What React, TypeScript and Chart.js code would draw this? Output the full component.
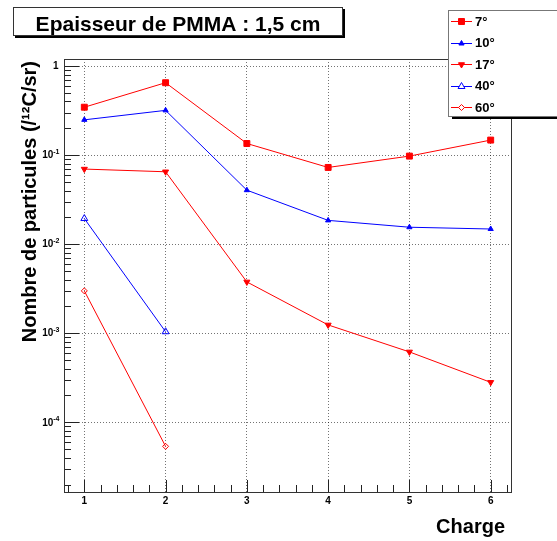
import React, { useEffect, useRef } from 'react';
import { Chart, registerables } from 'chart.js';
import { drawPoint } from 'chart.js/helpers';

Chart.register(...registerables);

// ---- data ----
const charges = [1, 2, 3, 4, 5, 6];
const v7 = [0.345, 0.65, 0.135, 0.0727, 0.0975, 0.1475];
const v10 = [0.249, 0.318, 0.0404, 0.0185, 0.0155, 0.0148];
const v17 = [0.0697, 0.065, 0.00377, 0.00124, 0.000617, 0.000281];
const v40 = [0.0194, 0.00104];
const v60 = [0.00299, 0.0000537];
const seriesLabels = ['7°', '10°', '17°', '40°', '60°'];
const xTicks = [1, 2, 3, 4, 5, 6];
const yDecades = [1e-4, 1e-3, 1e-2, 1e-1, 1];
const titleText = 'Epaisseur de PMMA : 1,5 cm';
const xTitle = 'Charge';
const yTitle = 'Nombre de particules (/¹²C/sr)';

const FONT = '"Liberation Sans", Arial, Helvetica, sans-serif';

const toPts = (vals: number[]) => vals.map((v, i) => ({ x: charges[i], y: v }));

const RED = '#ff0000';
const BLUE = '#0000ff';

const seriesStyles = [
  { color: RED, pointStyle: 'rect', radius: 4.2, rotation: 0, hollow: false },
  { color: BLUE, pointStyle: 'triangle', radius: 3, rotation: 0, hollow: false },
  { color: RED, pointStyle: 'triangle', radius: 3.5, rotation: 180, hollow: false },
  { color: BLUE, pointStyle: 'triangle', radius: 4, rotation: 0, hollow: true },
  { color: RED, pointStyle: 'rectRot', radius: 3, rotation: 0, hollow: true },
];
const seriesValues = [v7, v10, v17, v40, v60];

const decoPlugin = {
  id: 'rootDeco',
  beforeDatasetsDraw(chart: any) {
    const { ctx, chartArea } = chart;
    const xs = chart.scales.x;
    const ys = chart.scales.y;
    const L = chartArea.left, R = chartArea.right, T = chartArea.top, B = chartArea.bottom;
    ctx.save();
    ctx.strokeStyle = '#222';
    ctx.lineWidth = 1;
    // y ticks (major + minor)
    ctx.beginPath();
    for (let e = -5; e <= 0; e++) {
      for (let m = 1; m <= 9; m++) {
        const v = m * Math.pow(10, e);
        if (v < ys.min || v > ys.max) continue;
        const y = Math.round(ys.getPixelForValue(v)) + 0.5;
        const len = m === 1 ? 15 : 7;
        ctx.moveTo(L, y);
        ctx.lineTo(L + len, y);
      }
    }
    // x ticks
    for (let k = 0; k <= 60; k++) {
      const v = Math.round((0.8 + k * 0.2) * 10) / 10;
      if (v < xs.min || v > xs.max) continue;
      const x = Math.round(xs.getPixelForValue(v)) + 0.5;
      const major = Math.abs(v - Math.round(v)) < 1e-6;
      const len = major ? 12 : 7;
      ctx.moveTo(x, B);
      ctx.lineTo(x, B - len);
    }
    ctx.stroke();
    // frame
    ctx.strokeStyle = '#333';
    ctx.strokeRect(Math.round(L) + 0.5, Math.round(T) + 0.5, Math.round(R - L), Math.round(B - T));
    // y tick labels
    ctx.fillStyle = '#000';
    ctx.textBaseline = 'middle';
    ctx.textAlign = 'right';
    yDecades.forEach((v) => {
      const y = ys.getPixelForValue(v);
      const e = Math.round(Math.log10(v));
      if (e === 0) {
        ctx.font = `bold 10px ${FONT}`;
        ctx.fillText('1', 58.5, y);
      } else {
        ctx.font = `bold 7px ${FONT}`;
        const ex = String(e);
        const w = ctx.measureText(ex).width;
        ctx.fillText(ex, 59.5, y - 3.5);
        ctx.font = `bold 10px ${FONT}`;
        ctx.fillText('10', 59.5 - w, y + 0.5);
      }
    });
    ctx.restore();
  },
  afterDraw(chart: any) {
    const { ctx } = chart;
    ctx.save();
    // title box
    ctx.fillStyle = '#000';
    ctx.fillRect(15, 36, 330, 2);
    ctx.fillRect(343, 9, 2, 28);
    ctx.fillStyle = '#fff';
    ctx.fillRect(13, 7, 330, 29);
    ctx.strokeStyle = '#333';
    ctx.lineWidth = 1;
    ctx.strokeRect(13.5, 7.5, 329, 28);
    ctx.fillStyle = '#000';
    ctx.font = `bold 21px ${FONT}`;
    ctx.textAlign = 'center';
    ctx.textBaseline = 'alphabetic';
    ctx.fillText(titleText, 178, 30.5);

    // axis titles
    ctx.font = `bold 20px ${FONT}`;
    ctx.textAlign = 'right';
    ctx.fillText(xTitle, 505, 533);
    ctx.save();
    ctx.translate(36, 61);
    ctx.rotate(-Math.PI / 2);
    ctx.textAlign = 'right';
    ctx.fillText(yTitle, 0, 0);
    ctx.restore();

    // legend
    ctx.fillStyle = '#000';
    ctx.fillRect(452, 117, 110, 2);
    ctx.fillStyle = '#fff';
    ctx.fillRect(448, 10, 112, 107);
    ctx.strokeStyle = '#777';
    ctx.strokeRect(448.5, 10.5, 112, 106);
    const ds = chart.data.datasets;
    ds.forEach((d: any, i: number) => {
      const st = seriesStyles[i];
      const y = 21 + i * 21.6;
      ctx.strokeStyle = st.color;
      ctx.lineWidth = 1;
      ctx.beginPath();
      ctx.moveTo(451, Math.round(y) + 0.5);
      ctx.lineTo(472, Math.round(y) + 0.5);
      ctx.stroke();
      ctx.fillStyle = st.hollow ? '#fff' : st.color;
      drawPoint(ctx, { pointStyle: st.pointStyle, rotation: st.rotation, radius: st.radius, borderWidth: 1 } as any, 461.5, Math.round(y) + 0.5);
      ctx.fillStyle = '#000';
      ctx.font = `bold 13px ${FONT}`;
      ctx.textAlign = 'left';
      ctx.textBaseline = 'middle';
      ctx.fillText(d.label, 475, y + 1);
    });
    ctx.restore();
  },
};

export default function App() {
  const ref = useRef<HTMLCanvasElement | null>(null);
  useEffect(() => {
    if (!ref.current) return;
    const datasets = seriesValues.map((vals, i) => {
      const st = seriesStyles[i];
      return {
        label: seriesLabels[i],
        data: toPts(vals),
        borderColor: st.color,
        backgroundColor: st.color,
        borderWidth: 1,
        pointStyle: st.pointStyle,
        pointRadius: st.radius,
        pointRotation: st.rotation,
        pointBackgroundColor: st.hollow ? 'rgba(255,255,255,0)' : st.color,
        pointBorderColor: st.color,
        pointBorderWidth: 1,
        tension: 0,
        fill: false,
      };
    });
    const chart = new Chart(ref.current, {
      type: 'line',
      data: { datasets } as any,
      options: {
        animation: false,
        responsive: false,
        devicePixelRatio: 1,
        layout: { padding: { top: 59, right: 46, left: 0, bottom: 0 } },
        plugins: { legend: { display: false }, title: { display: false }, tooltip: { enabled: false } },
        scales: {
          x: {
            type: 'linear',
            min: 0.75,
            max: 6.25,
            afterBuildTicks: (s: any) => { s.ticks = xTicks.map((v) => ({ value: v })); },
            afterFit: (s: any) => { s.height = 49; },
            grid: { color: 'rgba(0,0,0,0.55)', lineWidth: 1, drawTicks: false },
            border: { display: false, dash: [1, 2] },
            ticks: {
              padding: 3,
              color: '#000',
              font: { family: FONT, size: 10, weight: 'bold' },
              maxRotation: 0,
              callback: (v: any) => String(v),
            },
          },
          y: {
            type: 'logarithmic',
            min: 1.65e-5,
            max: 1.2,
            afterBuildTicks: (s: any) => { s.ticks = yDecades.map((v) => ({ value: v })); },
            afterFit: (s: any) => { s.width = 64; },
            grid: { color: 'rgba(0,0,0,0.55)', lineWidth: 1, drawTicks: false },
            border: { display: false, dash: [1, 2] },
            ticks: { display: false },
          },
        },
      } as any,
      plugins: [decoPlugin],
    });
    return () => chart.destroy();
  }, []);
  return (
    <div style={{ position: 'fixed', left: 0, top: 0, width: 557, height: 541, background: '#fff' }}>
      <canvas ref={ref} width={557} height={541} />
    </div>
  );
}
